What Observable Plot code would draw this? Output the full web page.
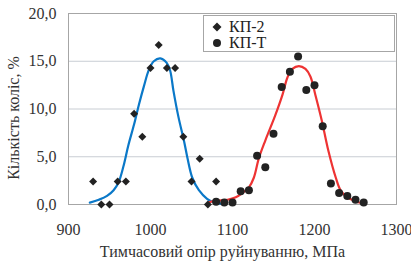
<!DOCTYPE html>
<html>
<head>
<meta charset="utf-8">
<script src="https://cdn.jsdelivr.net/npm/d3@7"></script>
<script src="https://cdn.jsdelivr.net/npm/@observablehq/plot@0.6"></script>
<style>
  html, body { margin: 0; padding: 0; background: #fff; }
  #wrap { position: relative; width: 411px; height: 261px; font-family: "Liberation Serif", "DejaVu Serif", serif; }
  #wrap svg text { font-family: "Liberation Serif", "DejaVu Serif", serif; }
  #legend { position: absolute; left: 203px; top: 15px; width: 192px; height: 37px; background: #fff; border: 1px solid #a6a6a6; box-sizing: border-box; }
  #legend div { position: absolute; left: 8px; font-size: 16px; line-height: 16px; color: #222; display: flex; align-items: center; }
  #legend svg { margin-right: 7px; }
</style>
</head>
<body>
<div id="wrap"></div>
<script>
// Scatter data: КП-2 (diamonds)
const kp2X = [930, 940, 950, 960, 970, 980, 990, 1000, 1010, 1020, 1030, 1040, 1050, 1060, 1070, 1080];
const kp2Y = [2.4, 0.0, 0.0, 2.4, 2.4, 9.5, 7.1, 14.3, 16.7, 14.3, 14.3, 7.1, 2.4, 4.8, 0.0, 2.4];
// КП-Т (circles)
const kptX = [1080, 1090, 1100, 1110, 1120, 1130, 1140, 1150, 1160, 1170, 1180, 1190, 1200, 1210, 1220, 1230, 1240, 1250, 1260];
const kptY = [0.3, 0.2, 0.2, 1.4, 1.5, 5.1, 3.9, 7.4, 12.3, 13.9, 15.5, 12.0, 12.5, 8.2, 2.2, 1.2, 0.9, 0.5, 0.2];
// Fitted curves
const blueX = [926, 937, 947, 955, 961, 967, 973, 980, 986, 992, 998, 1004, 1012, 1020, 1024, 1028, 1034, 1041, 1045, 1051, 1059, 1069, 1077, 1087];
const blueY = [0.2, 0.5, 0.9, 1.5, 2.3, 4.0, 6.2, 8.4, 10.5, 12.4, 14.1, 15.0, 15.3, 14.8, 14.0, 11.9, 9.2, 6.6, 4.9, 2.8, 1.5, 0.6, 0.24, 0.07];
const redX = [1071, 1081, 1094, 1104, 1112, 1120, 1126, 1132, 1140, 1152, 1161, 1167, 1173, 1181, 1189, 1195, 1201, 1209, 1217, 1226, 1232, 1240, 1250, 1258];
const redY = [0.24, 0.4, 0.5, 0.76, 1.2, 1.8, 2.8, 4.8, 6.7, 9.3, 11.5, 13.3, 14.2, 14.5, 14.2, 13.4, 11.5, 8.75, 5.6, 2.8, 1.46, 0.76, 0.35, 0.14];
const xTicks = [900, 1000, 1100, 1200, 1300];
const yTicks = [0, 5, 10, 15, 20];
const seriesNames = ["КП-2", "КП-Т"];
const xLabel = "Тимчасовий опір руйнуванню, МПа";
const yLabel = "Кількість коліс, %";

const kp2 = kp2X.map((x, i) => ({x, y: kp2Y[i]}));
const kpt = kptX.map((x, i) => ({x, y: kptY[i]}));
const blue = blueX.map((x, i) => ({x, y: blueY[i]}));
const red = redX.map((x, i) => ({x, y: redY[i]}));

const fmtY = d => d3.format(".1f")(d).replace(".", ",");
const fmtX = d => String(d);
const serif = "Liberation Serif, DejaVu Serif, serif";

const chart = Plot.plot({
  width: 411,
  height: 261,
  marginLeft: 68,
  marginRight: 15,
  marginTop: 13,
  marginBottom: 57,
  style: {fontFamily: serif, fontSize: "16px", color: "#333", background: "#fff", overflow: "visible"},
  x: {domain: [900, 1300], ticks: xTicks, tickSize: 0, tickPadding: 20, tickFormat: fmtX, label: null},
  y: {domain: [0, 20], ticks: yTicks, tickSize: 0, tickPadding: 12, tickFormat: fmtY, label: null},
  marks: [
    Plot.gridY(yTicks, {stroke: "#c8cdd3", strokeOpacity: 1, strokeWidth: 1}),
    Plot.frame({stroke: "#a6a6a6"}),
    Plot.line(blue, {x: "x", y: "y", stroke: "#0a78c8", strokeWidth: 2.2, curve: "catmull-rom"}),
    Plot.line(red, {x: "x", y: "y", stroke: "#ee3333", strokeWidth: 2.2, curve: "catmull-rom"}),
    Plot.dot(kp2, {x: "x", y: "y", symbol: "diamond2", r: 3.6, fill: "#222", stroke: "none"}),
    Plot.dot(kpt, {x: "x", y: "y", r: 4, fill: "#222", stroke: "none"}),
    Plot.axisX({ticks: xTicks, tickSize: 0, tickPadding: 19, tickFormat: fmtX, label: null, fill: "#333", fontFamily: serif, fontSize: 16}),
    Plot.axisY({ticks: yTicks, tickSize: 0, tickPadding: 12, tickFormat: fmtY, label: null, fill: "#333", fontFamily: serif, fontSize: 16}),
    Plot.text([xLabel], {frameAnchor: "bottom", dx: -10, dy: 52, text: d => d, fontSize: 16, fontFamily: serif, fill: "#333"}),
    Plot.text([yLabel], {frameAnchor: "left", textAnchor: "middle", dx: -55, dy: 9, rotate: -90, text: d => d, fontSize: 16, fontFamily: serif, fill: "#333"})
  ]
});

const wrap = document.getElementById("wrap");
wrap.appendChild(chart);

const legend = document.createElement("div");
legend.id = "legend";
legend.innerHTML = `
  <div style="top:3px"><svg width="10" height="10"><path d="M5,0.5L9.5,5L5,9.5L0.5,5Z" fill="#222"/></svg>${seriesNames[0]}</div>
  <div style="top:19px"><svg width="10" height="10"><circle cx="5" cy="5" r="4" fill="#222"/></svg>${seriesNames[1]}</div>`;
wrap.appendChild(legend);
</script>
</body>
</html>
